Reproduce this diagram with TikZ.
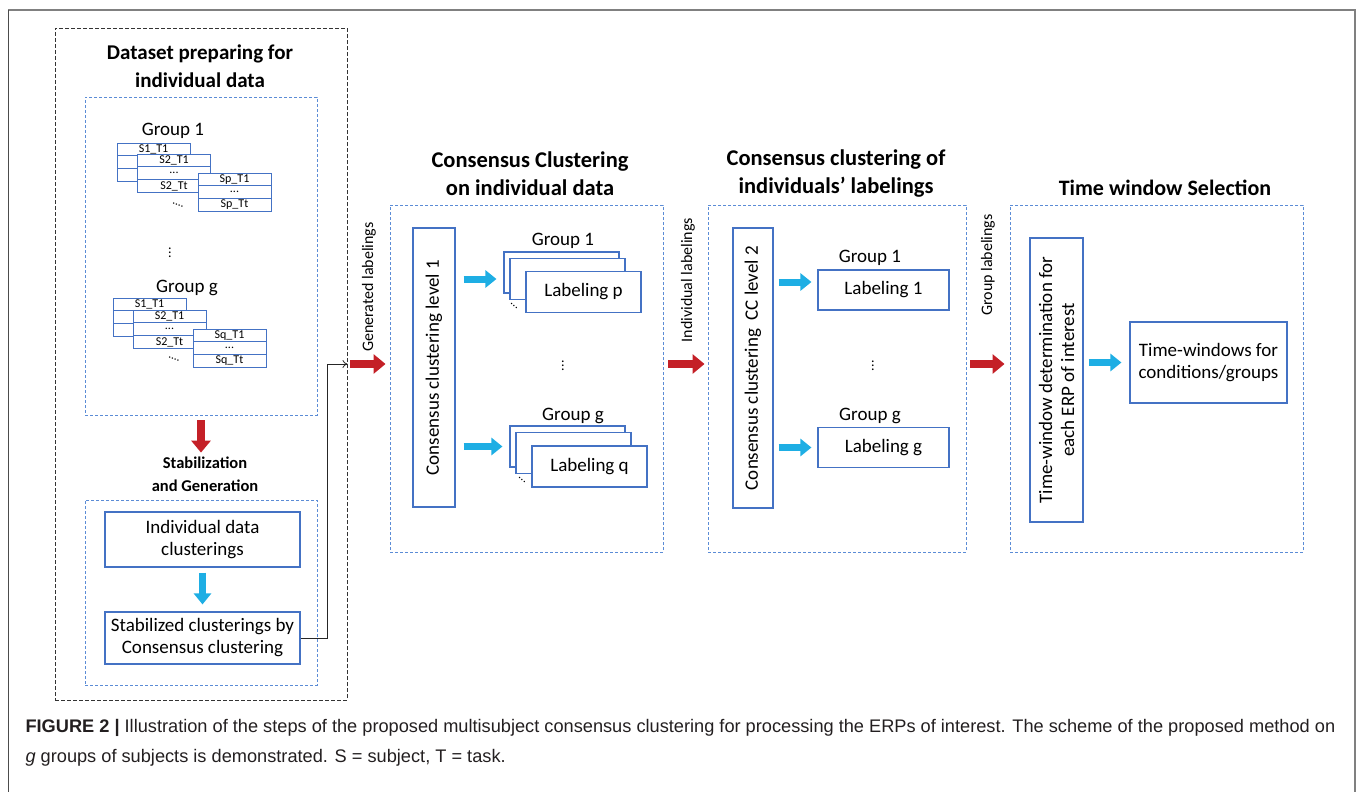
\documentclass[tikz,border=0pt]{standalone}
\usepackage{fontspec}
\setmainfont{Carlito}
\newfontfamily\capfont{Liberation Sans}
\usetikzlibrary{positioning,arrows.meta}
\definecolor{boxblue}{RGB}{68,114,196}
\definecolor{dashblue}{RGB}{91,140,214}
\definecolor{arrowblue}{RGB}{30,174,228}
\definecolor{arrowred}{RGB}{196,32,39}
\definecolor{framegray}{RGB}{128,128,128}
\definecolor{captext}{RGB}{35,31,32}

\begin{document}
\begin{tikzpicture}[x=1pt, y=-1pt,
        panel/.style={draw=dashblue, dash pattern=on 3pt off 2pt, line width=0.9pt, inner sep=0pt},
        outerpanel/.style={draw=black!80, dash pattern=on 4pt off 2pt, line width=0.9pt, inner sep=0pt},
        block/.style={draw=boxblue, line width=1.1pt, fill=white, inner sep=2pt, align=center, font=\fontsize{19}{22}\selectfont},
        row/.style={draw=boxblue, line width=0.9pt, fill=white, inner sep=0pt, outer sep=0pt, minimum width=73, minimum height=12.8, font=\fontsize{12}{12}\selectfont},
        heading/.style={font=\bfseries\fontsize{22.5}{28}\selectfont, align=center},
        grouplabel/.style={font=\fontsize{19}{20}\selectfont},
        vdotslabel/.style={inner sep=0pt, font=\fontsize{14}{14}\selectfont},
        sidelabel/.style={rotate=90, font=\fontsize{16}{18}\selectfont},
        smalldots/.style={font=\fontsize{12}{12}\selectfont},
        redarrow/.style={arrowred, line width=8pt, -{Triangle[length=12pt, width=19pt]}},
        bluearrow/.style={arrowblue, line width=7pt, -{Triangle[length=11pt, width=17pt]}},
        ]
        \useasboundingbox (0,0) rectangle (1358,792);
        \draw[framegray, line width=2pt] (8,10) -- (1355,10) -- (1355,792);
        \draw[black!70, line width=1pt] (8,10) -- (8,792);

        \node (prep) at (201,364) [outerpanel, minimum width=292, minimum height=672] {};
        \node (grp) at (201,256) [panel, minimum width=232, minimum height=318] {};
        \node (gen) at (201,592.5) [panel, minimum width=232, minimum height=185] {};
        \node (cc1panel) at (526.5,378.5) [panel, minimum width=273, minimum height=347] {};
        \node (cc2panel) at (837,378.5) [panel, minimum width=258, minimum height=347] {};
        \node (twpanel) at (1156.5,378.5) [panel, minimum width=293, minimum height=347] {};

        \node (preptitle) at (200,66) [heading, font=\bfseries\fontsize{21}{28}\selectfont] {Dataset preparing for\\individual data};
        \node (stabtitle) at (205,474.5) [heading, font=\bfseries\fontsize{16.5}{23}\selectfont] {Stabilization\\and Generation};
        \node (cc1title) at (530,174) [heading] {Consensus Clustering\\on individual data};
        \node (cc2title) at (836,174) [heading] {Consensus clustering of\\individuals' labelings};
        \node (twtitle) at (1165,188) [heading, font=\bfseries\fontsize{22}{28}\selectfont] {Time window Selection};

        \node (g1label) at (173,131) [grouplabel] {Group 1};
        \node (g1a1) at (153.5,149.4) [row] {S1\_T1};
        \node (g1a2) [row, below=0pt of g1a1] {};
        \node (g1a3) [row, below=0pt of g1a2] {};
        \node (g1b1) at (174,160.4) [row] {S2\_T1};
        \node (g1b2) [row, below=0pt of g1b1] {...};
        \node (g1b3) [row, below=0pt of g1b2] {S2\_Tt};
        \node (g1c1) at (234.5,179.4) [row] {Sp\_T1};
        \node (g1c2) [row, below=0pt of g1c1] {...};
        \node (g1c3) [row, below=0pt of g1c2] {Sp\_Tt};
        \node (g1dots) at (178,205) [smalldots, rotate=-25] {....};

        \node (grpvdots) at (170,250) [vdotslabel] {$\vdots$};

        \node (gglabel) at (187,288) [grouplabel] {Group g};
        \node (gga1) at (149.5,304.4) [row] {S1\_T1};
        \node (gga2) [row, below=0pt of gga1] {};
        \node (gga3) [row, below=0pt of gga2] {};
        \node (ggb1) at (169.5,316.4) [row] {S2\_T1};
        \node (ggb2) [row, below=0pt of ggb1] {...};
        \node (ggb3) [row, below=0pt of ggb2] {S2\_Tt};
        \node (ggc1) at (229.5,335.4) [row] {Sq\_T1};
        \node (ggc2) [row, below=0pt of ggc1] {...};
        \node (ggc3) [row, below=0pt of ggc2] {Sq\_Tt};
        \node (ggdots) at (174,359) [smalldots, rotate=-25] {....};

        \node (indiv) at (202.5,539.5) [block, minimum width=195, minimum height=55] {Individual data\\clusterings};
        \node (stabil) at (202.5,638) [block, minimum width=195, minimum height=52] {Stabilized clusterings by\\Consensus clustering};

        \node (cc1box) at (434,367.5) [block, rotate=90, minimum width=279, minimum height=42] {Consensus clustering level 1};
        \node (lplabel) at (563,241) [grouplabel] {Group 1};
        \node (lp1) at (561.5,272.5) [block, minimum width=115, minimum height=41] {};
        \node (lp2) at (567.5,279) [block, minimum width=115, minimum height=41] {};
        \node (lp3) at (583.5,292) [block, minimum width=115, minimum height=41] {Labeling p};
        \node (lpdots) at (514,306) [smalldots, rotate=-40] {...};
        \node (ccvdots) at (563,363) [vdotslabel] {$\vdots$};
        \node (lqlabel) at (573,416) [grouplabel] {Group g};
        \node (lq1) at (567.5,446.5) [block, minimum width=115, minimum height=41] {};
        \node (lq2) at (573.5,453) [block, minimum width=115, minimum height=41] {};
        \node (lq3) at (589.5,466.5) [block, minimum width=115, minimum height=41] {Labeling q};
        \node (lqdots) at (522,480) [smalldots, rotate=-40] {...};

        \node (cc2box) at (753,368) [block, rotate=90, minimum width=280, minimum height=40] {Consensus clustering\ \ CC level 2};
        \node (lab1label) at (870,258) [grouplabel] {Group 1};
        \node (lab1) at (883.5,290) [block, minimum width=131, minimum height=40] {Labeling 1};
        \node (labvdots) at (873,363) [vdotslabel] {$\vdots$};
        \node (labglabel) at (870,416) [grouplabel] {Group g};
        \node (labg) at (883.5,447.5) [block, minimum width=131, minimum height=40] {Labeling g};

        \node (twbox) at (1056.5,380) [block, rotate=90, minimum width=284, minimum height=53] {Time-window determination for\\each ERP of interest};
        \node (twout) at (1208.5,362.5) [block, minimum width=157, minimum height=81] {Time-windows for\\conditions/groups};

        \node (genlabel) at (369,287) [sidelabel] {Generated labelings};
        \node (indlabel) at (688,280) [sidelabel] {Individual labelings};
        \node (grplabel) at (988,265) [sidelabel] {Group labelings};

        \coordinate (corner) at (327,364);
        \coordinate (lab1in) at ([yshift=8pt]lab1.west);

        \draw[black!85, line width=0.8pt, -{To[length=5pt, width=8pt]}] (stabil.east) -| (corner) -- (prep.east |- corner);
        \draw[redarrow, shorten <=3pt, shorten >=4pt] (prep.east |- corner) -- (cc1panel.west |- corner);
        \draw[redarrow, shorten <=5pt, shorten >=3pt] (cc1panel.east |- corner) -- (cc2panel.west |- corner);
        \draw[redarrow, shorten <=4pt, shorten >=5pt] (cc2panel.east |- corner) -- (twpanel.west |- corner);
        \draw[redarrow, shorten <=5pt, shorten >=1pt] (grp.south) -- (grp.south |- stabtitle.north);

        \draw[bluearrow, shorten <=5pt, shorten >=7pt] (indiv.south) -- (stabil.north);
        \draw[bluearrow, shorten <=8pt, shorten >=7pt] (cc1box.south |- lp2.west) -- (lp1.west |- lp2.west);
        \draw[bluearrow, shorten <=8pt, shorten >=7pt] (cc1box.south |- lq1.west) -- (lq1.west);
        \draw[bluearrow, shorten <=5pt, shorten >=6pt] (cc2box.south |- lab1in) -- (lab1in);
        \draw[bluearrow, shorten <=5pt, shorten >=6pt] (cc2box.south |- labg.west) -- (labg.west);
        \draw[bluearrow, shorten <=5pt, shorten >=8pt] (twbox.south |- twout.west) -- (twout.west);

        \node (caption) at (22,743) [anchor=west, align=left, text=captext, font=\capfont\fontsize{18.2}{30}\selectfont] {\textbf{FIGURE 2 |} Illustration of the steps of the proposed multisubject consensus clustering for processing the ERPs of interest. The scheme of the proposed method on\\\textit{g} groups of subjects is demonstrated. S = subject, T = task.};
    \end{tikzpicture}
\end{document}
